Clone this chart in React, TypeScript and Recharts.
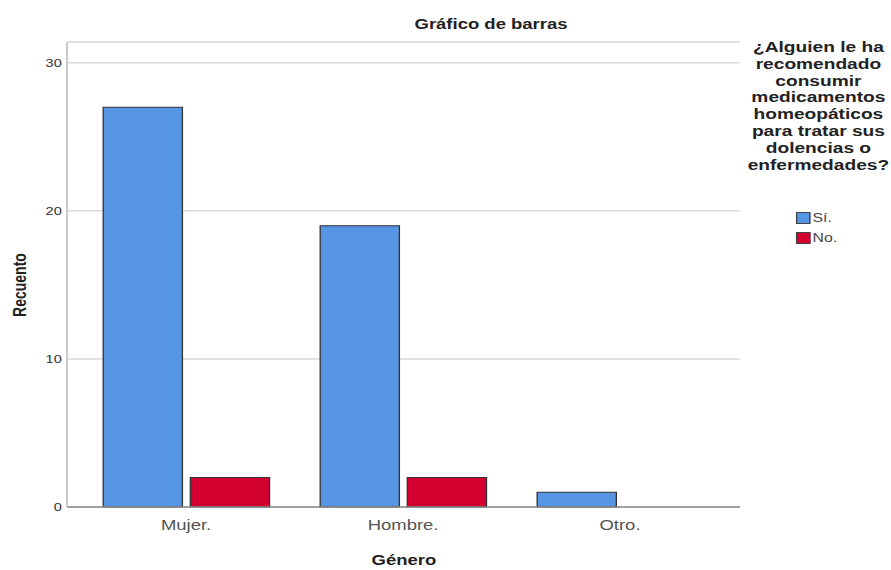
import { BarChart, Bar, XAxis, YAxis, CartesianGrid } from 'recharts';

const generos = ['Mujer.', 'Hombre.', 'Otro.'];
const si = [27, 19, 1];
const no = [2, 2, 0];
const yTicks = [0, 10, 20, 30];

const data = generos.map((g, i) => ({ genero: g, si: si[i], no: no[i] }));

const legendTitle = [
  '¿Alguien le ha',
  'recomendado',
  'consumir',
  'medicamentos',
  'homeopáticos',
  'para tratar sus',
  'dolencias o',
  'enfermedades?',
];

const legendItems = [
  { name: 'Sí.', color: '#5595e3' },
  { name: 'No.', color: '#d3002f' },
];

// the reference is stretched horizontally, so draw narrow and scale up
const W = 891;
const S = 1.32;
const IW = W / S;
const FONT = '"Liberation Sans", Arial, sans-serif';

export default function App() {
  return (
    <div style={{ position: 'fixed', left: 0, top: 0, width: W, height: 570, background: '#fff', overflow: 'hidden' }}>
      <div
        style={{
          position: 'absolute',
          left: 0,
          top: 0,
          width: IW,
          height: 570,
          transform: `scaleX(${S})`,
          transformOrigin: '0 0',
          fontFamily: FONT,
        }}
      >
        {/* title */}
        <div style={{ position: 'absolute', left: 272, top: 16, width: 200, textAlign: 'center', fontSize: 14, lineHeight: '16px', fontWeight: 'bold', color: '#222' }}>
          Gráfico de barras
        </div>

        {/* legend */}
        <div style={{ position: 'absolute', left: 555, top: 39, width: 130, textAlign: 'center', whiteSpace: 'nowrap', fontSize: 14.5, lineHeight: '16.8px', fontWeight: 'bold', color: '#222' }}>
          {legendTitle.map((l) => (
            <div key={l}>{l}</div>
          ))}
        </div>
        <div style={{ position: 'absolute', left: 603, top: 208 }}>
          {legendItems.map((it) => (
            <div key={it.name} style={{ display: 'flex', alignItems: 'center', height: 20, fontSize: 12, color: '#444' }}>
              <span style={{ width: 10.5, height: 12, background: it.color, border: '1px solid #444', marginRight: 2, boxSizing: 'border-box' }} />
              {it.name}
            </div>
          ))}
        </div>

        {/* axis titles */}
        <div style={{ position: 'absolute', left: 0, top: 552, width: IW - 114, paddingLeft: 51, boxSizing: 'border-box', textAlign: 'center', fontSize: 14, lineHeight: '16px', fontWeight: 'bold', color: '#222' }}>
          Género
        </div>
        <div style={{ position: 'absolute', left: 15 - 50, top: 285 - 8, width: 100, textAlign: 'center', transform: 'rotate(-90deg)', fontSize: 14, lineHeight: '16px', fontWeight: 'bold', color: '#222' }}>
          Recuento
        </div>

        <BarChart
          width={IW}
          height={570}
          data={data}
          margin={{ top: 42, right: 114.4, bottom: 33, left: 0 }}
          barGap={6}
          barCategoryGap={19.4}
        >
          <CartesianGrid horizontal vertical={false} stroke="#d9d9d9" strokeWidth={1.5} />
          <XAxis
            dataKey="genero"
            height={30}
            padding={{ left: 8, right: 8.7 }}
            tickLine={false}
            tickSize={0}
            tickMargin={13}
            axisLine={{ stroke: '#8a8a8a', strokeWidth: 1.5 }}
            tick={{ fontSize: 14, fill: '#555', fontFamily: FONT }}
          />
          <YAxis
            width={50.8}
            domain={[0, 31.4]}
            ticks={yTicks}
            tickLine={false}
            tickSize={0}
            tickMargin={4}
            axisLine={{ stroke: '#c8c8c8', strokeWidth: 1.5 }}
            tick={{ fontSize: 11, fill: '#333', fontFamily: FONT }}
          />
          <Bar dataKey="si" name="Sí." fill="#5595e3" stroke="#333" strokeWidth={1} isAnimationActive={false} />
          <Bar dataKey="no" name="No." fill="#d3002f" stroke="#333" strokeWidth={1} isAnimationActive={false} />
        </BarChart>
      </div>
    </div>
  );
}
